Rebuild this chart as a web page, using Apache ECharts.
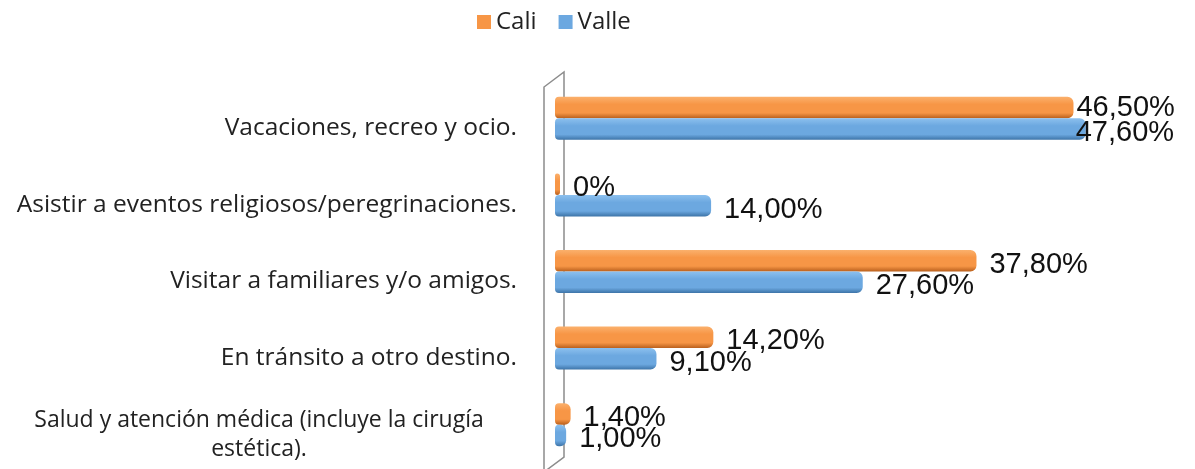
<!DOCTYPE html>
<html>
<head>
<meta charset="utf-8">
<script src="https://cdn.jsdelivr.net/npm/echarts@6/dist/echarts.min.js"></script>
<style>
  html, body { margin: 0; padding: 0; background: #fff; }
  #chart { width: 1195px; height: 469px; }
</style>
</head>
<body>
<div id="chart"></div>
<script>
// categorias de arriba hacia abajo
const categories = [
  'Vacaciones, recreo y ocio.',
  'Asistir a eventos religiosos/peregrinaciones.',
  'Visitar a familiares y/o amigos.',
  'En tránsito a otro destino.',
  'Salud y atención médica (incluye la cirugía\nestética).'
]
const cali = [46.5, 0, 37.8, 14.2, 1.4]
const valle = [47.6, 14.0, 27.6, 9.1, 1.0]
const seriesNames = ['Cali', 'Valle']

const chart = echarts.init(document.getElementById('chart'))

function fmt(v) {
  if (v === 0) return '0%'
  return v.toFixed(2).replace('.', ',') + '%'
}

function grad(top, mid, bottom) {
  return new echarts.graphic.LinearGradient(0, 0, 0, 1, [
    { offset: 0, color: top },
    { offset: 0.35, color: mid },
    { offset: 0.75, color: mid },
    { offset: 1, color: bottom }
  ])
}

// etiquetas grandes quedan recortadas al borde del area (como en Excel)
const caliData = cali.map((v, i) => i === 0 ? { value: v, label: { offset: [-10, 0] } } : v)
const valleData = valle.map((v, i) => i === 0 ? { value: v, label: { offset: [-23, 4] } } : v)

const labelStyle = {
  show: true,
  position: 'right',
  distance: 13,
  offset: [0, 4],
  fontFamily: '"Liberation Sans", Arial, sans-serif',
  fontSize: 29,
  color: '#111',
  formatter: p => fmt(p.value)
}

const option = {
  animation: false,
  legend: {
    top: 5,
    left: 472,
    itemWidth: 14,
    itemHeight: 14,
    itemGap: 22,
    textStyle: { fontFamily: '"Open Sans", sans-serif', fontSize: 24, color: '#222' },
    data: [
      { name: seriesNames[0], icon: 'rect', itemStyle: { color: '#f79646' } },
      { name: seriesNames[1], icon: 'rect', itemStyle: { color: '#6ca8e0' } }
    ]
  },
  grid: { left: 555, right: 82.5, top: 80, bottom: 6 },
  xAxis: {
    type: 'value',
    min: 0,
    max: 50,
    show: false
  },
  yAxis: {
    type: 'category',
    inverse: true,
    data: categories,
    axisLine: { show: false },
    axisTick: { show: false },
    axisLabel: {
      margin: 38,
      padding: [20, 0, 0, 0],
      fontFamily: '"Open Sans", sans-serif',
      fontSize: 24.5,
      color: '#222',
      formatter: v => {
        if (v.indexOf('\n') < 0) return v
        return v.split('\n').map(s => '{c|' + s + '}').join('\n')
      },
      rich: {
        c: {
          width: 448,
          align: 'center',
          padding: [0, 34, 0, 0],
          fontFamily: '"Open Sans", sans-serif',
          fontSize: 23,
          lineHeight: 29,
          color: '#222'
        }
      }
    }
  },
  graphic: [
    {
      type: 'polyline',
      z: 0,
      shape: { points: [[544, 469], [544, 87], [564, 72], [564, 457], [544, 472]] },
      style: { stroke: '#8c8c8c', lineWidth: 1.5, fill: 'none' }
    }
  ],
  series: [
    {
      name: seriesNames[0],
      type: 'bar',
      barWidth: 21.5,
      barGap: '0%',
      barMinHeight: 5,
      z: 3,
      itemStyle: {
        color: grad('#fbb06c', '#f79646', '#b95f1c'),
        borderRadius: [4, 6, 6, 4]
      },
      label: labelStyle,
      data: caliData
    },
    {
      name: seriesNames[1],
      type: 'bar',
      barWidth: 21.5,
      z: 3,
      itemStyle: {
        color: grad('#8cc0ee', '#6ca8e0', '#3d74a8'),
        borderRadius: [4, 6, 6, 4]
      },
      label: labelStyle,
      data: valleData
    }
  ]
}

chart.setOption(option)
</script>
</body>
</html>
